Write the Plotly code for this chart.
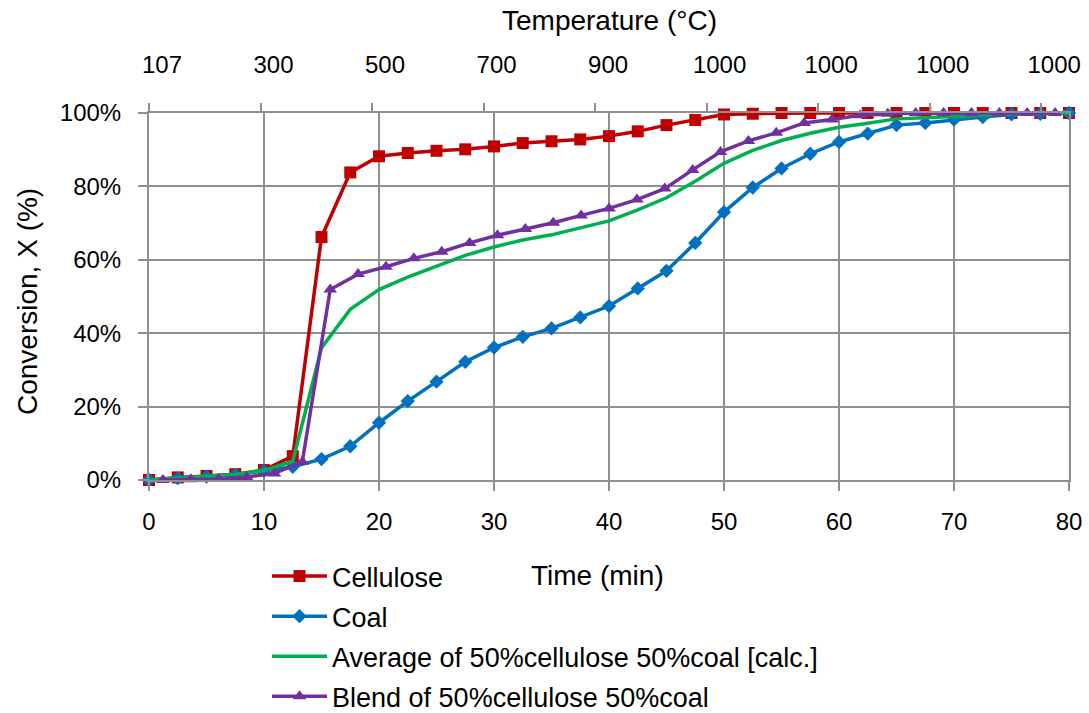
import plotly.graph_objects as go

# Sampling times (min) for the single-fuel runs
time_min = [0, 2.5, 5, 7.5, 10, 12.5, 15, 17.5, 20, 22.5, 25, 27.5, 30, 32.5, 35, 37.5,
            40, 42.5, 45, 47.5, 50, 52.5, 55, 57.5, 60, 62.5, 65, 67.5, 70, 72.5, 75, 77.5, 80]

# Conversion (fraction)
cellulose = [0.000, 0.007, 0.011, 0.016, 0.027, 0.065, 0.662, 0.838, 0.882, 0.891, 0.897,
             0.901, 0.909, 0.918, 0.923, 0.928, 0.937, 0.950, 0.967, 0.981, 0.996, 0.998,
             1.000, 1.000, 1.000, 1.000, 1.000, 1.000, 1.000, 1.000, 1.000, 1.000, 1.000]
coal = [0.000, 0.005, 0.009, 0.014, 0.025, 0.036, 0.057, 0.092, 0.156, 0.215, 0.268,
        0.322, 0.361, 0.390, 0.413, 0.443, 0.474, 0.522, 0.570, 0.646, 0.730, 0.797,
        0.849, 0.889, 0.921, 0.944, 0.967, 0.973, 0.982, 0.989, 0.996, 0.998, 1.000]
average_calc = [0.000, 0.006, 0.010, 0.015, 0.026, 0.051, 0.360, 0.465, 0.519, 0.553, 0.583,
                0.612, 0.635, 0.654, 0.668, 0.686, 0.706, 0.736, 0.769, 0.814, 0.863, 0.898,
                0.925, 0.945, 0.961, 0.972, 0.984, 0.987, 0.991, 0.995, 0.998, 0.999, 1.000]

# Blend run, logged per temperature reading (secondary category axis)
blend_sample = list(range(33))
blend = [0.000, 0.002, 0.003, 0.008, 0.018, 0.050, 0.519, 0.561, 0.581, 0.604, 0.622,
         0.646, 0.667, 0.684, 0.701, 0.721, 0.740, 0.764, 0.794, 0.845, 0.894, 0.924,
         0.946, 0.973, 0.982, 0.994, 0.998, 1.000, 1.000, 1.000, 1.000, 1.000, 1.000]

# Temperature labels shown every fourth reading
temp_tick_sample = [0, 4, 8, 12, 16, 20, 24, 28, 32]
temp_tick_text = ["107", "300", "500", "700", "900", "1000", "1000", "1000", "1000"]

FONT = "Arial, Liberation Sans, sans-serif"
TICK_FS = 24
LEGEND_FS = 27
TITLE_FS = 28
GRID = "#8f8f8f"
LW = 3.5

fig = go.Figure()
fig.add_trace(go.Scatter(
    x=time_min, y=cellulose, name="Cellulose", mode="lines+markers",
    line=dict(color="#C00000", width=LW),
    marker=dict(symbol="square", size=12, color="#C00000"),
    legendgroup="a", cliponaxis=False))
fig.add_trace(go.Scatter(
    x=time_min, y=coal, name="Coal", mode="lines+markers",
    line=dict(color="#0070C0", width=LW),
    marker=dict(symbol="diamond", size=11, color="#0070C0"),
    legendgroup="b", cliponaxis=False))
fig.add_trace(go.Scatter(
    x=time_min, y=average_calc, name="Average of 50%cellulose 50%coal [calc.]",
    mode="lines", line=dict(color="#00B050", width=LW),
    legendgroup="c", cliponaxis=False))
fig.add_trace(go.Scatter(
    x=blend_sample, y=blend, name="Blend of 50%cellulose 50%coal", mode="lines+markers",
    xaxis="x2", yaxis="y",
    line=dict(color="#7030A0", width=LW),
    marker=dict(symbol="triangle-up", size=12, color="#7030A0"),
    legendgroup="d", cliponaxis=False))

# Boundaries between groups of four readings on the temperature axis
cat_bounds = [v - 0.5 for v in temp_tick_sample]

fig.update_layout(
    width=1089, height=713, autosize=False,
    margin=dict(l=149, r=20, t=113, b=233, autoexpand=False),
    paper_bgcolor="white", plot_bgcolor="white",
    font=dict(family=FONT, size=TICK_FS, color="#000000"),
    showlegend=True,
    legend=dict(xref="container", yref="container", x=0.2452, y=0.2258,
                xanchor="left", yanchor="top",
                bgcolor="rgba(0,0,0,0)", font=dict(size=LEGEND_FS),
                tracegroupgap=2, itemwidth=55),
    xaxis=dict(range=[0, 80], tickvals=[0, 10, 20, 30, 40, 50, 60, 70, 80],
               automargin=False,
               showgrid=True, gridcolor=GRID, gridwidth=2, zeroline=False,
               showline=True, linecolor=GRID, linewidth=2, mirror=True,
               ticks="outside", ticklen=9, tickwidth=2, tickcolor=GRID,
               ticklabelstandoff=10, tickfont=dict(size=TICK_FS)),
    xaxis2=dict(overlaying="x", side="top", range=[-0.5, 32.5], automargin=False,
                tickvals=cat_bounds, ticktext=temp_tick_text,
                ticklabelshift=13, ticklabelstandoff=20,
                showgrid=False, zeroline=False, showline=False,
                ticks="outside", ticklen=9, tickwidth=2, tickcolor=GRID,
                tickfont=dict(size=TICK_FS)),
    yaxis=dict(range=[0, 1], tickvals=[0, 0.2, 0.4, 0.6, 0.8, 1.0], tickformat=".0%",
               automargin=False,
               showgrid=True, gridcolor=GRID, gridwidth=2, zeroline=False,
               showline=True, linecolor=GRID, linewidth=2, mirror=True,
               ticks="outside", ticklen=9, tickwidth=2, tickcolor=GRID,
               ticklabelstandoff=12, tickfont=dict(size=TICK_FS)),
    annotations=[
        dict(text="Temperature (°C)", xref="paper", yref="paper", x=0.5, y=1.2534,
             xanchor="center", yanchor="middle", showarrow=False, font=dict(size=TITLE_FS)),
        dict(text="Time (min)", xref="paper", yref="paper", x=0.488, y=-0.2589,
             xanchor="center", yanchor="middle", showarrow=False, font=dict(size=TITLE_FS)),
        dict(text="Conversion, X (%)", xref="paper", yref="paper", x=-0.1326, y=0.485,
             xanchor="center", yanchor="middle", showarrow=False, textangle=-90,
             font=dict(size=TITLE_FS)),
    ],
)

fig.write_html("out.html")
